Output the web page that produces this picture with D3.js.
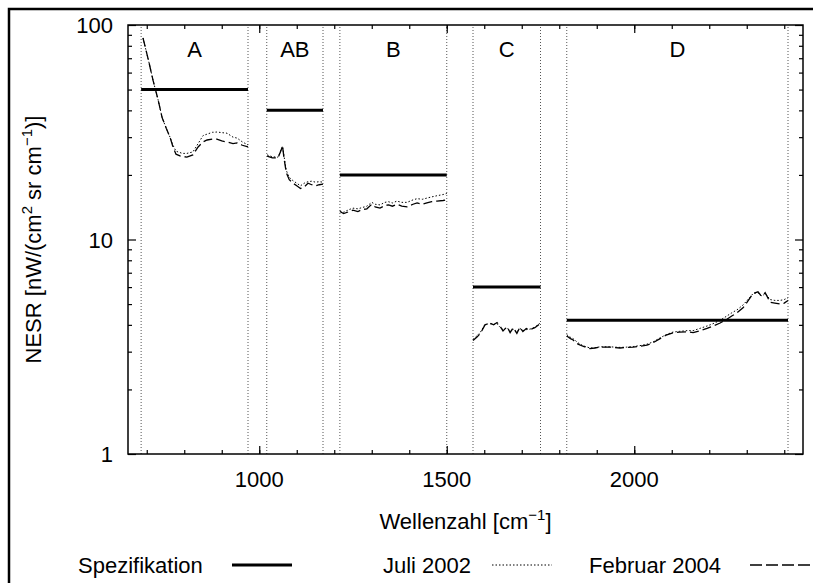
<!DOCTYPE html>
<html>
<head>
<meta charset="utf-8">
<script src="https://cdn.jsdelivr.net/npm/d3@7"></script>
<style>
  body { margin: 0; background: #fff; }
  text { font-family: "Liberation Sans", Arial, Helvetica, sans-serif; fill: #000; }
</style>
</head>
<body>
<div id="chart"></div>
<script>
// bands: name, start, end, spec value
var bandNames = ["A", "AB", "B", "C", "D"];
var bandStart = [685, 1020, 1215, 1570, 1820];
var bandEnd = [970, 1170, 1500, 1750, 2410];
var specValues = [50, 40, 20, 6, 4.2];

// Juli 2002 (dotted), per band: [wavenumber, NESR]
var juli2002 = [
  [[690,87],[705,68],[717,55],[730,45],[741,37],[752,33],[762,30],[770,27.5],[778,25.8],[795,25.2],[807,25.2],[823,25.6],[837,28],[850,30.5],[861,31],[875,31.6],[887,31.7],[900,31.5],[914,31.3],[930,30],[941,29.7],[955,28.5],[970,27.6]],
  [[1021,24.8],[1035,24.3],[1050,24.2],[1058,26.2],[1062,27.3],[1066,24.5],[1072,21],[1080,19.5],[1090,18.8],[1100,18.3],[1110,17.8],[1120,18.3],[1130,18.6],[1140,18.7],[1150,18.5],[1160,18.6],[1170,18.5]],
  [[1215,13.6],[1225,13.4],[1240,13.8],[1250,14],[1263,13.9],[1275,14.1],[1287,14.3],[1300,14.9],[1309,14.6],[1322,14.5],[1335,14.9],[1345,15],[1355,14.8],[1367,15.1],[1380,14.9],[1394,14.9],[1410,15.3],[1421,15.5],[1435,15.4],[1447,15.6],[1460,15.8],[1474,16.0],[1490,16.2],[1500,16.4]],
  [[1570,3.42],[1580,3.55],[1590,3.7],[1602,4.02],[1615,4.05],[1625,4.02],[1634,4.05],[1642,3.9],[1650,3.8],[1661,3.88],[1669,3.72],[1677,3.82],[1687,3.7],[1695,3.85],[1703,3.76],[1712,3.8],[1722,3.82],[1735,3.9],[1745,4.02],[1750,4.12]],
  [[1820,3.6],[1830,3.5],[1837,3.45],[1850,3.3],[1863,3.2],[1882,3.12],[1895,3.13],[1909,3.16],[1935,3.16],[1962,3.14],[1980,3.15],[1997,3.17],[2015,3.2],[2034,3.25],[2050,3.33],[2069,3.48],[2085,3.6],[2103,3.7],[2120,3.73],[2141,3.76],[2157,3.76],[2175,3.85],[2194,3.95],[2210,4.05],[2229,4.2],[2247,4.4],[2260,4.55],[2274,4.7],[2290,4.95],[2301,5.2],[2317,5.6],[2330,5.65],[2337,5.5],[2341,5.45],[2349,5.6],[2355,5.45],[2362,5.25],[2375,5.2],[2389,5.2],[2400,5.25],[2410,5.35]]
];

// Februar 2004 (dashed)
var februar2004 = [
  [[690,87],[705,68],[717,55],[730,45],[741,37],[752,33],[762,30],[770,27],[778,25],[790,24.5],[807,24.2],[823,24.8],[837,27],[850,28.5],[861,29.1],[875,29.4],[887,29.4],[900,28.8],[914,28.5],[930,28],[941,28.2],[955,27.5],[970,27]],
  [[1021,24.5],[1035,24],[1050,24],[1058,26],[1062,27.3],[1066,24],[1072,20.5],[1080,19],[1090,18.3],[1100,17.8],[1110,17.3],[1120,17.6],[1130,18.3],[1140,18],[1150,17.8],[1160,18],[1170,18.1]],
  [[1215,13.5],[1225,13.2],[1240,13.5],[1250,13.7],[1263,13.5],[1275,13.8],[1287,13.9],[1300,14.6],[1309,14.2],[1322,14.0],[1335,14.4],[1345,14.5],[1355,14.3],[1367,14.6],[1380,14.3],[1394,14.2],[1410,14.6],[1421,14.8],[1435,14.6],[1447,14.8],[1460,15],[1474,15.1],[1490,15.2],[1500,15.3]],
  [[1570,3.38],[1580,3.5],[1590,3.65],[1602,4.0],[1615,4.08],[1625,4.0],[1634,4.1],[1642,3.95],[1650,3.75],[1661,3.92],[1669,3.68],[1677,3.88],[1687,3.65],[1695,3.9],[1703,3.72],[1712,3.85],[1722,3.8],[1735,3.88],[1745,4.0],[1750,4.15]],
  [[1820,3.55],[1830,3.45],[1837,3.4],[1850,3.25],[1863,3.18],[1882,3.1],[1895,3.12],[1909,3.15],[1935,3.15],[1962,3.12],[1980,3.14],[1997,3.15],[2015,3.18],[2034,3.22],[2050,3.3],[2069,3.45],[2085,3.58],[2103,3.67],[2120,3.7],[2141,3.71],[2157,3.68],[2175,3.75],[2194,3.85],[2210,3.95],[2229,4.08],[2247,4.25],[2260,4.4],[2274,4.55],[2290,4.8],[2301,5.1],[2317,5.6],[2330,5.7],[2337,5.5],[2341,5.45],[2349,5.65],[2355,5.4],[2362,5.1],[2375,5.05],[2389,5.0],[2400,5.05],[2410,5.2]]
];

var xMajor = [1000, 1500, 2000];
var xMinor = d3.range(700, 2450, 100);
var yMajor = [1, 10, 100];
var yMinor = [2,3,4,5,6,7,8,9,20,30,40,50,60,70,80,90];
var legendNames = ["Spezifikation", "Juli 2002", "Februar 2004"];

(function () {
    var width = 813,
        height = 583;

    var left = 128, right = 803, top = 25, bottom = 454;

    var svg = d3.select("#chart")
        .append("svg")
        .attr("width", width)
        .attr("height", height);

    // outer frame, right and bottom edges off the page
    svg.append("rect")
        .attr("x", 9).attr("y", 9)
        .attr("width", 900).attr("height", 700)
        .attr("fill", "none")
        .attr("stroke", "#000")
        .attr("stroke-width", 2.5);

    var x = d3.scaleLinear().domain([650, 2450]).range([left, right]);
    var y = d3.scaleLog().domain([1, 100]).range([bottom, top]);

    var fontSize = 22;

    // band separators
    var edges = bandStart.concat(bandEnd);
    svg.selectAll(".sep")
        .data(edges)
        .enter().append("line")
        .attr("class", "sep")
        .attr("x1", function (d) { return x(d); })
        .attr("x2", function (d) { return x(d); })
        .attr("y1", bottom)
        .attr("y2", top)
        .attr("stroke", "#555")
        .attr("stroke-width", 1)
        .attr("stroke-dasharray", "1,2");

    // band labels
    svg.selectAll(".band")
        .data(bandNames)
        .enter().append("text")
        .attr("class", "band")
        .attr("x", function (d, i) { return x((bandStart[i] + bandEnd[i]) / 2); })
        .attr("y", 57)
        .attr("text-anchor", "middle")
        .style("font-size", fontSize + "px")
        .text(function (d) { return d; });

    // axes, ticks pointing inward on all four sides
    function addAxis(axis, transform, values, size) {
        var g = svg.append("g")
            .attr("transform", transform)
            .call(axis.tickValues(values).tickSize(size).tickFormat(""));
        g.select(".domain").remove();
        g.selectAll("line").attr("stroke", "#000").attr("stroke-width", 1.2);
        return g;
    }
    addAxis(d3.axisBottom(x), "translate(0," + bottom + ")", xMinor, -4);
    addAxis(d3.axisBottom(x), "translate(0," + bottom + ")", xMajor, -8);
    addAxis(d3.axisTop(x), "translate(0," + top + ")", xMinor, -4);
    addAxis(d3.axisTop(x), "translate(0," + top + ")", xMajor, -8);
    addAxis(d3.axisLeft(y), "translate(" + left + ",0)", yMinor, -4);
    addAxis(d3.axisLeft(y), "translate(" + left + ",0)", yMajor, -8);
    addAxis(d3.axisRight(y), "translate(" + right + ",0)", yMinor, -4);
    addAxis(d3.axisRight(y), "translate(" + right + ",0)", yMajor, -8);

    svg.append("rect")
        .attr("x", left).attr("y", top)
        .attr("width", right - left).attr("height", bottom - top)
        .attr("fill", "none")
        .attr("stroke", "#000")
        .attr("stroke-width", 1.5);

    // tick labels
    svg.selectAll(".xl")
        .data(xMajor)
        .enter().append("text")
        .attr("x", function (d) { return x(d); })
        .attr("y", bottom + 33)
        .attr("text-anchor", "middle")
        .style("font-size", fontSize + "px")
        .text(function (d) { return d; });

    svg.selectAll(".yl")
        .data(yMajor)
        .enter().append("text")
        .attr("x", left - 15)
        .attr("y", function (d) { return y(d) + 8; })
        .attr("text-anchor", "end")
        .style("font-size", fontSize + "px")
        .text(function (d) { return d; });

    // axis titles
    var xt = svg.append("text")
        .attr("x", (left + right) / 2)
        .attr("y", 529)
        .attr("text-anchor", "middle")
        .style("font-size", fontSize + "px");
    xt.append("tspan").text("Wellenzahl [cm");
    xt.append("tspan").attr("dy", -9).style("font-size", "15px").text("\u22121");
    xt.append("tspan").attr("dy", 9).text("]");

    var yt = svg.append("text")
        .attr("transform", "translate(41," + ((top + bottom) / 2) + ") rotate(-90)")
        .attr("text-anchor", "middle")
        .style("font-size", fontSize + "px");
    yt.append("tspan").text("NESR [nW/(cm");
    yt.append("tspan").attr("dy", -9).style("font-size", "15px").text("2");
    yt.append("tspan").attr("dy", 9).text(" sr cm");
    yt.append("tspan").attr("dy", -9).style("font-size", "15px").text("\u22121");
    yt.append("tspan").attr("dy", 9).text(")]");

    // spec lines
    svg.selectAll(".spec")
        .data(specValues)
        .enter().append("line")
        .attr("class", "spec")
        .attr("x1", function (d, i) { return x(bandStart[i]); })
        .attr("x2", function (d, i) { return x(bandEnd[i]); })
        .attr("y1", function (d) { return y(d); })
        .attr("y2", function (d) { return y(d); })
        .attr("stroke", "#000")
        .attr("stroke-width", 3);

    var line = d3.line()
        .x(function (d) { return x(d[0]); })
        .y(function (d) { return y(d[1]); });

    svg.selectAll(".juli")
        .data(juli2002)
        .enter().append("path")
        .attr("class", "juli")
        .attr("d", line)
        .attr("fill", "none")
        .attr("stroke", "#000")
        .attr("stroke-width", 1)
        .attr("stroke-dasharray", "1.5,2");

    svg.selectAll(".feb")
        .data(februar2004)
        .enter().append("path")
        .attr("class", "feb")
        .attr("d", line)
        .attr("fill", "none")
        .attr("stroke", "#000")
        .attr("stroke-width", 1.3)
        .attr("stroke-dasharray", "9,4");

    // legend
    var legY = 565;
    var legText = [[78, 232, 292], [383, 492, 552], [589, 750, 812]];
    var legDash = [null, "1.5,2", "12,4"];
    var legW = [3, 1, 1.3];
    legendNames.forEach(function (name, i) {
        svg.append("text")
            .attr("x", legText[i][0])
            .attr("y", legY + 8)
            .style("font-size", fontSize + "px")
            .text(name);
        svg.append("line")
            .attr("x1", legText[i][1]).attr("x2", legText[i][2])
            .attr("y1", legY).attr("y2", legY)
            .attr("stroke", "#000")
            .attr("stroke-width", legW[i])
            .attr("stroke-dasharray", legDash[i]);
    });
})();
</script>
</body>
</html>
